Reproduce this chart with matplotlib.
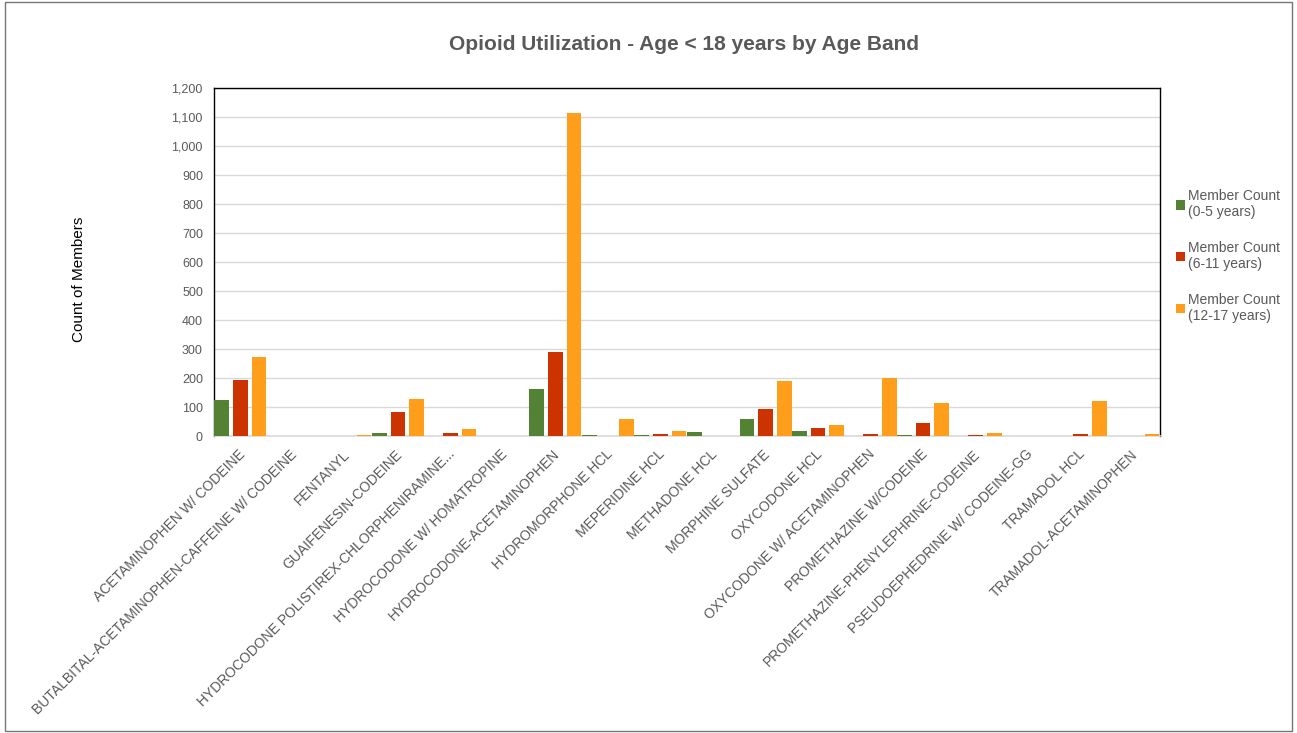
import numpy as np
import matplotlib
matplotlib.use('Agg')
import matplotlib.pyplot as plt
from matplotlib.ticker import FuncFormatter

plt.rcParams['font.family'] = ['Liberation Sans', 'DejaVu Sans']

drugs = [
  "ACETAMINOPHEN W/ CODEINE",
  "BUTALBITAL-ACETAMINOPHEN-CAFFEINE W/ CODEINE",
  "FENTANYL",
  "GUAIFENESIN-CODEINE",
  "HYDROCODONE POLISTIREX-CHLORPHENIRAMINE...",
  "HYDROCODONE W/ HOMATROPINE",
  "HYDROCODONE-ACETAMINOPHEN",
  "HYDROMORPHONE HCL",
  "MEPERIDINE HCL",
  "METHADONE HCL",
  "MORPHINE SULFATE",
  "OXYCODONE HCL",
  "OXYCODONE W/ ACETAMINOPHEN",
  "PROMETHAZINE W/CODEINE",
  "PROMETHAZINE-PHENYLEPHRINE-CODEINE",
  "PSEUDOEPHEDRINE W/ CODEINE-GG",
  "TRAMADOL HCL",
  "TRAMADOL-ACETAMINOPHEN",
]

age_0_5 = [124, 0, 0, 10, 0, 0, 161, 3, 3, 15, 59, 17, 0, 3, 0, 0, 0, 0]
age_6_11 = [193, 0, 0, 84, 10, 0, 291, 2, 6, 0, 94, 28, 9, 45, 4, 0, 7, 0]
age_12_17 = [272, 0, 3, 128, 23, 0, 1115, 60, 18, 2, 189, 40, 201, 114, 10, 0, 121, 7]

series_labels = ["Member Count\n(0-5 years)", "Member Count\n(6-11 years)", "Member Count\n(12-17 years)"]
colors = ['#548235', '#CC3300', '#FF9E1B']

fig = plt.figure(figsize=(12.97, 7.33), dpi=100)
ax = fig.add_axes([0.165, 0.405, 0.729, 0.475])

x = np.arange(len(drugs))
w = 0.28
off = 0.355
for i, (vals, lab, c) in enumerate(zip([age_0_5, age_6_11, age_12_17], series_labels, colors)):
  ax.bar(x + (i - 1) * off, vals, width=w, color=c, label=lab, zorder=3)

ax.set_xlim(-0.5, len(drugs) - 0.5)
ax.set_ylim(0, 1200)
ax.set_yticks(range(0, 1201, 100))
ax.yaxis.set_major_formatter(FuncFormatter(lambda v, p: format(int(v), ',')))
ax.grid(axis='y', color='#d9d9d9', linewidth=1, zorder=0)
ax.tick_params(axis='y', length=0, labelsize=9, labelcolor='#595959', pad=8)
ax.tick_params(axis='x', length=0, labelsize=10, labelcolor='#595959', pad=8)
ax.set_xticks(x - 0.05)
ax.set_xticklabels(drugs, rotation=45, ha='right', rotation_mode='anchor')

for s in ['left', 'right', 'top']:
  ax.spines[s].set_color('black')
  ax.spines[s].set_linewidth(1)
ax.spines['bottom'].set_color('#d9d9d9')
ax.spines['bottom'].set_linewidth(1.2)

ax.set_ylabel("Count of Members", fontsize=11, color='black')
ax.yaxis.set_label_coords(-0.135, 0.45)

fig.suptitle("Opioid Utilization - Age < 18 years by Age Band", x=0.527, y=0.952,
             fontsize=15, fontweight='bold', color='#595959')

leg = ax.legend(loc='upper left', bbox_to_anchor=(1.012, 0.725), frameon=False,
                fontsize=10, handlelength=0.65, handleheight=0.65, handletextpad=0.2,
                labelspacing=1.55, borderaxespad=0)
for t in leg.get_texts():
  t.set_color('#595959')

fig.patches.append(plt.Rectangle((0.004, 0.003), 0.992, 0.994, transform=fig.transFigure,
                                 fill=False, edgecolor='#767676', linewidth=1))

plt.savefig("out.png", dpi=100)
plt.close()
